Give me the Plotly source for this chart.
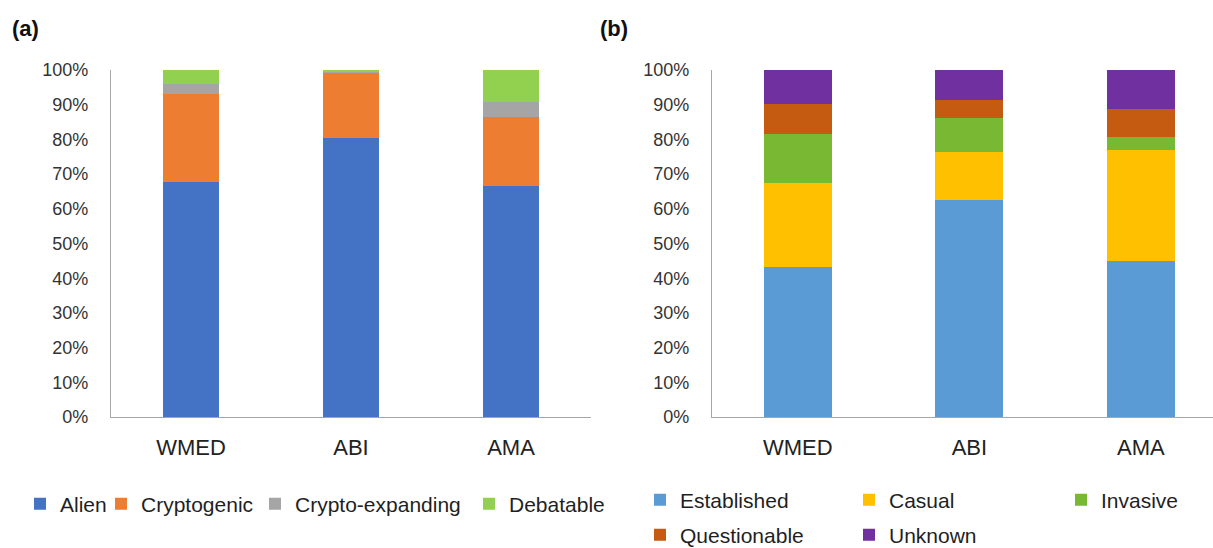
import plotly.graph_objects as go

W, H = 1213, 548

categories = ["WMED", "ABI", "AMA"]

# Panel (a) – status
a_names = ["Alien", "Cryptogenic", "Crypto-expanding", "Debatable"]
a_alien = [67.7, 80.5, 66.6]
a_crypto = [25.3, 18.5, 19.8]
a_expand = [2.9, 0.7, 4.5]
a_debat = [4.1, 0.3, 9.1]
a_colors = ["#4472C4", "#ED7D31", "#A5A5A5", "#92D050"]

# Panel (b) – establishment
b_names = ["Established", "Casual", "Invasive", "Questionable", "Unknown"]
b_est = [43.3, 62.5, 45.0]
b_cas = [24.0, 14.0, 31.9]
b_inv = [14.3, 9.6, 3.9]
b_que = [8.5, 5.2, 7.9]
b_unk = [9.9, 8.7, 11.3]
b_colors = ["#5B9BD5", "#FFC000", "#78B832", "#C55A11", "#7030A0"]

tick_labels = [f"{v}%" for v in range(0, 101, 10)]

FONT = "Liberation Sans, Arial, sans-serif"

PLOT_TOP, PLOT_BOTTOM = 70, 417

fig = go.Figure()

# legend positions (square left px, row y px)
a_leg_pos = [(34, 504), (115, 504), (269, 504), (483, 504)]
b_leg_pos = [(654, 500), (863, 500), (1075, 500), (654, 535), (863, 535)]

legend_layouts = {}
leg_idx = 0

def next_legend(px, py):
    global leg_idx
    leg_idx += 1
    key = "legend" if leg_idx == 1 else f"legend{leg_idx}"
    legend_layouts[key] = dict(
        x=(px - 14) / W, y=1 - py / H, xref="container", yref="container",
        xanchor="left", yanchor="middle", orientation="h",
        bgcolor="rgba(0,0,0,0)", borderwidth=0,
        font=dict(family=FONT, size=21, color="#1f1f1f"),
        itemwidth=30, traceorder="normal", visible=True,
    )
    return key

a_series = [a_alien, a_crypto, a_expand, a_debat]
for name, vals, col, pos in zip(a_names, a_series, a_colors, a_leg_pos):
    fig.add_trace(go.Bar(
        x=categories, y=vals, name=name, marker=dict(color=col, line=dict(width=0)),
        width=0.356, xaxis="x", yaxis="y", legend=next_legend(*pos), showlegend=True,
    ))

b_series = [b_est, b_cas, b_inv, b_que, b_unk]
for name, vals, col, pos in zip(b_names, b_series, b_colors, b_leg_pos):
    fig.add_trace(go.Bar(
        x=categories, y=vals, name=name, marker=dict(color=col, line=dict(width=0)),
        width=0.397, xaxis="x2", yaxis="y2", legend=next_legend(*pos), showlegend=True,
    ))

axis_line = "#A6A6A6"
yaxis_common = dict(
    range=[0, 100], tickvals=list(range(0, 101, 10)), ticktext=tick_labels,
    showgrid=False, zeroline=False, showline=True, linecolor=axis_line, linewidth=1.3,
    ticks="", ticklabelstandoff=18, tickfont=dict(family=FONT, size=18, color="#333333"),
    fixedrange=True,
)
xaxis_common = dict(
    type="category", showgrid=False, zeroline=False, showline=True,
    linecolor=axis_line, linewidth=1.3, ticks="", ticklabelstandoff=10,
    tickfont=dict(family=FONT, size=22, color="#222222"),
)

def paper_y(py):
    return (PLOT_BOTTOM - py) / (PLOT_BOTTOM - PLOT_TOP)

fig.update_layout(
    width=W, height=H,
    margin=dict(l=0, r=0, t=PLOT_TOP, b=H - PLOT_BOTTOM),
    paper_bgcolor="white", plot_bgcolor="white",
    barmode="stack", showlegend=True,
    xaxis=dict(domain=[111 / W, 591 / W], anchor="y", range=[-0.5, 2.5], **xaxis_common),
    yaxis=dict(domain=[0, 1], anchor="x", **yaxis_common),
    xaxis2=dict(domain=[712 / W, 1.0], anchor="y2", range=[-0.5, 2.42], **xaxis_common),
    yaxis2=dict(domain=[0, 1], anchor="x2", **yaxis_common),
    annotations=[
        dict(text="<b>(a)</b>", x=10 / W, y=paper_y(29), xref="paper", yref="paper",
             showarrow=False, xanchor="left", yanchor="middle",
             font=dict(family=FONT, size=22, color="#111111")),
        dict(text="<b>(b)</b>", x=598 / W, y=paper_y(29), xref="paper", yref="paper",
             showarrow=False, xanchor="left", yanchor="middle",
             font=dict(family=FONT, size=22, color="#111111")),
    ],
    **legend_layouts,
)

fig.write_html(
    "out.html",
    config={"displayModeBar": False, "staticPlot": False},
    post_script="document.body.style.margin='0px';document.body.style.padding='0px';",
)
